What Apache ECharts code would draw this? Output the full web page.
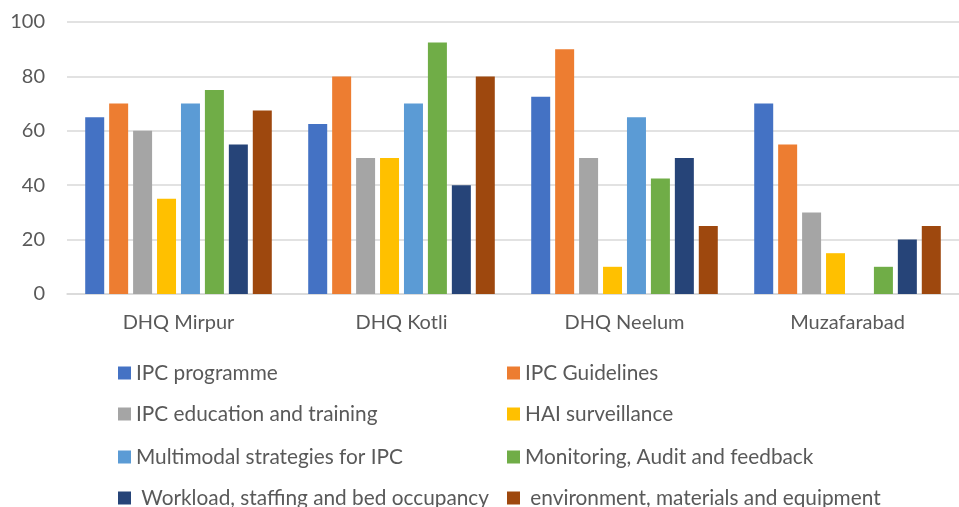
<!DOCTYPE html>
<html>
<head>
<meta charset="utf-8">
<script src="https://cdn.jsdelivr.net/npm/echarts@6/dist/echarts.min.js"></script>
<style>
  html, body { margin: 0; padding: 0; background: #fff; }
  #chart { width: 959px; height: 507px; }
</style>
</head>
<body>
<div id="chart"></div>
<script>
const hospitals = ['DHQ Mirpur', 'DHQ Kotli', 'DHQ Neelum', 'Muzafarabad']

const seriesNames = [
  'IPC programme',
  'IPC Guidelines',
  'IPC education and training',
  'HAI surveillance',
  'Multimodal strategies for IPC',
  'Monitoring, Audit and feedback',
  ' Workload, staffing and bed occupancy',
  ' environment, materials and equipment'
]

// one array per component, values per hospital
const ipcProgramme = [65, 62.5, 72.5, 70]
const ipcGuidelines = [70, 80, 90, 55]
const ipcEducation = [60, 50, 50, 30]
const haiSurveillance = [35, 50, 10, 15]
const multimodal = [70, 70, 65, '-']
const monitoring = [75, 92.5, 42.5, 10]
const workload = [55, 40, 50, 20]
const environment = [67.5, 80, 25, 25]

const yTicks = [0, 20, 40, 60, 80, 100]

const seriesValues = [ipcProgramme, ipcGuidelines, ipcEducation, haiSurveillance, multimodal, monitoring, workload, environment]
const colors = ['#4472C4', '#ED7D31', '#A5A5A5', '#FFC000', '#5B9BD5', '#70AD47', '#264478', '#9E480E']

const chart = echarts.init(document.getElementById('chart'))

const fontFamily = 'Lato'

// legend: two columns, four rows, one legend item per slot
const legendRowTops = [362, 403, 446, 487]
const legendColLefts = [118, 507]

const legends = seriesNames.map((name, i) => ({
  orient: 'horizontal',
  left: legendColLefts[i % 2],
  top: legendRowTops[Math.floor(i / 2)],
  padding: 0,
  itemWidth: 13,
  itemHeight: 13,
  icon: 'rect',
  textStyle: { fontFamily: fontFamily, fontSize: 20.8, color: '#595959', lineHeight: 22 },
  selectedMode: false,
  data: [name]
}))

const option = {
  animation: false,
  color: colors,
  grid: {
    left: 67,
    top: 22,
    width: 896,
    height: 272
  },
  legend: legends,
  xAxis: {
    type: 'category',
    data: hospitals,
    axisLine: { lineStyle: { color: '#D9D9D9', width: 1.5 } },
    axisTick: { show: false },
    axisLabel: { fontFamily: fontFamily, fontSize: 20, color: '#595959', margin: 19 }
  },
  yAxis: {
    type: 'value',
    min: yTicks[0],
    max: yTicks[yTicks.length - 1],
    interval: 20,
    axisLine: { show: false },
    axisTick: { show: false },
    axisLabel: { fontFamily: fontFamily, fontSize: 20, color: '#595959', margin: 22 },
    splitLine: { lineStyle: { color: '#D9D9D9', width: 1.5 } }
  },
  series: seriesNames.map((name, i) => ({
    name: name,
    type: 'bar',
    data: seriesValues[i],
    barWidth: 19,
    barGap: '26%',
    itemStyle: { color: colors[i] }
  }))
}

chart.setOption(option)
</script>
</body>
</html>
